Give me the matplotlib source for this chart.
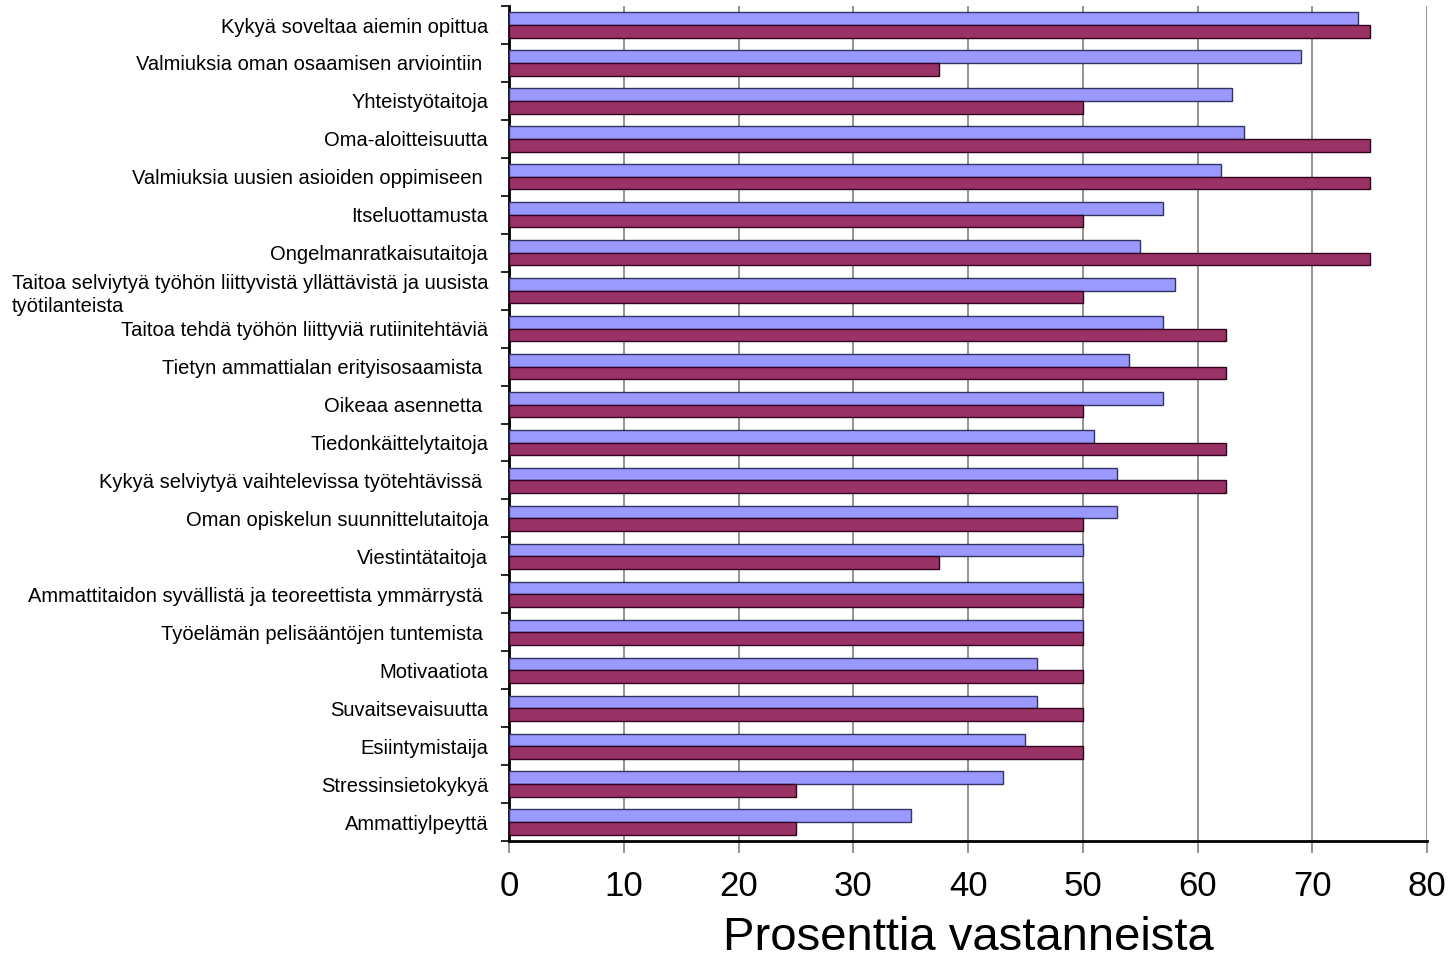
import numpy as np
from matplotlib import pyplot as plt

plt.rcParams['font.family'] = ['Liberation Sans', 'DejaVu Sans']

labels = [
    "Kykyä soveltaa aiemin opittua",
    "Valmiuksia oman osaamisen arviointiin ",
    "Yhteistyötaitoja",
    "Oma-aloitteisuutta",
    "Valmiuksia uusien asioiden oppimiseen ",
    "Itseluottamusta",
    "Ongelmanratkaisutaitoja",
    "Taitoa selviytyä työhön liittyvistä yllättävistä ja uusista\ntyötilanteista",
    "Taitoa tehdä työhön liittyviä rutiinitehtäviä",
    "Tietyn ammattialan erityisosaamista ",
    "Oikeaa asennetta ",
    "Tiedonkäittelytaitoja",
    "Kykyä selviytyä vaihtelevissa työtehtävissä ",
    "Oman opiskelun suunnittelutaitoja",
    "Viestintätaitoja",
    "Ammattitaidon syvällistä ja teoreettista ymmärrystä ",
    "Työelämän pelisääntöjen tuntemista ",
    "Motivaatiota",
    "Suvaitsevaisuutta",
    "Esiintymistaija",
    "Stressinsietokykyä",
    "Ammattiylpeyttä",
]

# two response groups, top bar and bottom bar of each pair
series_a = [74, 69, 63, 64, 62, 57, 55, 58, 57, 54, 57, 51, 53, 53, 50, 50, 50, 46, 46, 45, 43, 35]
series_b = [75, 37.5, 50, 75, 75, 50, 75, 50, 62.5, 62.5, 50, 62.5, 62.5, 50, 37.5, 50, 50, 50, 50, 50, 25, 25]

xticks = [0, 10, 20, 30, 40, 50, 60, 70, 80]

fig = plt.figure(figsize=(14.55, 9.59), dpi=100)
ax = fig.add_axes([0.3498, 0.123, 0.6311, 0.8707])

n = len(labels)
y = np.arange(n)
h = 1 / 3

ax.barh(y - h / 2, series_a, height=h, color='#9999FF', edgecolor='#333366',
        linewidth=1.0, zorder=3)
ax.barh(y + h / 2, series_b, height=h, color='#993366', edgecolor='#330022',
        linewidth=1.0, zorder=3)

ax.set_xlim(0, 80)
ax.set_ylim(n - 0.5, -0.5)

ax.set_xticks(xticks)
ax.set_xticklabels([str(v) for v in xticks], fontsize=25)
ax.tick_params(axis='x', length=8.5, width=1.2, color='#808080', pad=12)
ax.grid(axis='x', color='#808080', linewidth=1.2, zorder=0)

ax.set_yticks(y)
ax.set_yticklabels(labels, fontsize=14.5, multialignment='left', linespacing=1.3)
ax.tick_params(axis='y', which='major', length=0, pad=15)
ax.set_yticks(np.arange(n + 1) - 0.5, minor=True)
ax.tick_params(axis='y', which='minor', length=6, width=1.2, color='black')

for side in ('top', 'right'):
    ax.spines[side].set_visible(False)
ax.spines['left'].set_linewidth(2)
ax.spines['bottom'].set_linewidth(2)

ax.set_xlabel('Prosenttia vastanneista', fontsize=34, labelpad=10)

fig.savefig('out.png', dpi=100)
